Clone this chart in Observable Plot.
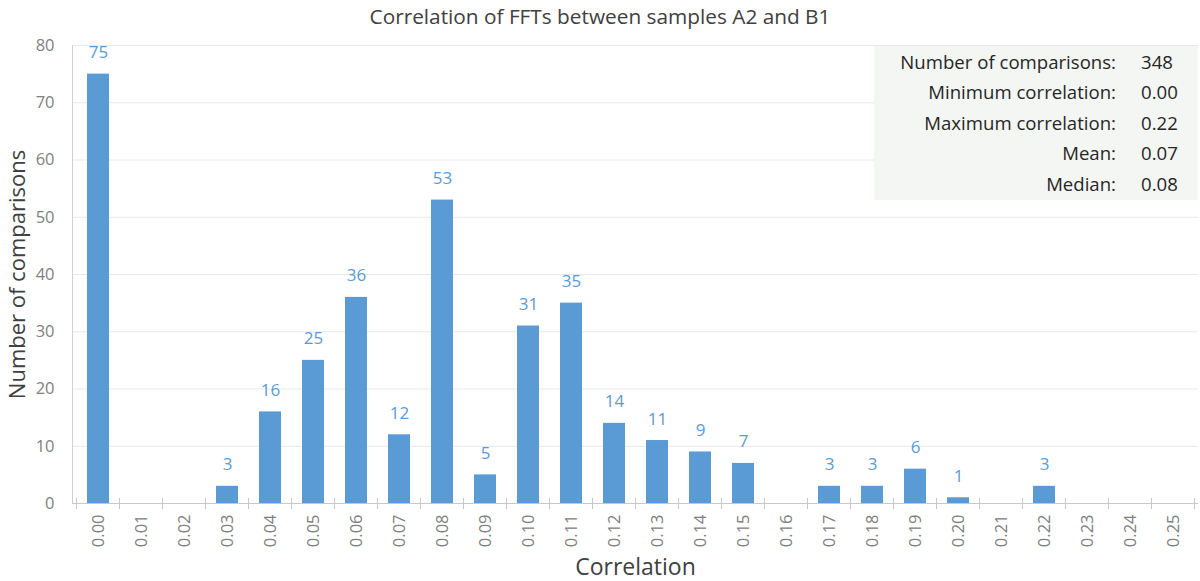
<!DOCTYPE html>
<html>
<head>
<meta charset="utf-8">
<script src="https://cdn.jsdelivr.net/npm/d3@7"></script>
<script src="https://cdn.jsdelivr.net/npm/@observablehq/plot@0.6"></script>
<style>
  html, body { margin: 0; padding: 0; background: #fff; }
  #wrap { position: relative; width: 1200px; height: 581px; font-family: "Open Sans", sans-serif; }
  #title { height: 30px; line-height: 32px; text-align: center; font-size: 20.8px; color: #404040; }
  #stats { position: absolute; left: 874px; top: 46px; width: 324px; height: 154px; background: #f4f6f4;
           font-size: 18.6px; color: #262626; }
  #stats .row { position: absolute; left: 0; width: 324px; height: 30.5px; line-height: 30.5px; }
  #stats .lab { position: absolute; right: 82px; white-space: nowrap; }
  #stats .val { position: absolute; left: 267px; white-space: nowrap; }
</style>
</head>
<body>
<div id="wrap">
  <div id="title">Correlation of FFTs between samples A2 and B1</div>
  <div id="chart"></div>
  <div id="stats"></div>
</div>
<script>
const categories = ["0.00","0.01","0.02","0.03","0.04","0.05","0.06","0.07","0.08","0.09","0.10","0.11","0.12","0.13","0.14","0.15","0.16","0.17","0.18","0.19","0.20","0.21","0.22","0.23","0.24","0.25"];
const counts = [75,0,0,3,16,25,36,12,53,5,31,35,14,11,9,7,0,3,3,6,1,0,3,0,0,0];
const yTicks = [0,10,20,30,40,50,60,70,80];
const statLabels = ["Number of comparisons:","Minimum correlation:","Maximum correlation:","Mean:","Median:"];
const statValues = ["348","0.00","0.22","0.07","0.08"];

const data = categories.map((c, i) => ({cat: c, n: counts[i]}));
const barColor = "#5b9bd5";

const chart = Plot.plot({
  width: 1200,
  height: 551,
  marginTop: 15,
  marginBottom: 78,
  marginLeft: 72,
  marginRight: 2,
  style: {fontFamily: "'Open Sans', sans-serif", background: "#fff"},
  x: {domain: categories, paddingInner: 0.5, paddingOuter: 0.25, label: null},
  y: {domain: [0, 80], label: null},
  marks: [
    Plot.gridY(yTicks, {stroke: "#e8e8e8", strokeOpacity: 1}),
    Plot.frame({anchor: "left", stroke: "#d0d0d0"}),
    Plot.barY(data, {x: "cat", y: "n", fill: barColor}),
    Plot.ruleY([0], {stroke: "#c8c8c8"}),
    Plot.text(data.filter(d => d.n > 0), {x: "cat", y: "n", text: d => String(d.n), fill: barColor, fontSize: 17, lineAnchor: "bottom", dy: -16}),
    Plot.axisY({ticks: yTicks, tickSize: 0, tickPadding: 18, fontSize: 16.5, color: "#808080", label: null}),
    Plot.axisX({tickRotate: -90, tickSize: 0, tickPadding: 11, fontSize: 16.5, color: "#808080", label: null}),
    Plot.text(["Correlation"], {frameAnchor: "bottom", dy: 71, lineAnchor: "bottom", textAnchor: "middle", fontSize: 23, fill: "#404040"}),
    Plot.text(["Number of comparisons"], {frameAnchor: "left", dx: -55, rotate: -90, lineAnchor: "middle", textAnchor: "middle", fontSize: 22, fill: "#404040"})
  ]
});

document.getElementById("chart").appendChild(chart);

// category boundary ticks from the band scale
const sx = chart.scale("x");
const sy = chart.scale("y");
const y0 = sy.apply(0);
const half = (sx.step - sx.bandwidth) / 2;
const bounds = categories.map(c => sx.apply(c) - half);
bounds.push(sx.apply(categories[categories.length - 1]) + sx.bandwidth + half);
d3.select(chart).append("g")
  .attr("stroke", "#c8c8c8")
  .selectAll("line").data(bounds).join("line")
  .attr("x1", d => d).attr("x2", d => d)
  .attr("y1", y0 - 5).attr("y2", y0 + 6);

const stats = d3.select("#stats");
statLabels.forEach((l, i) => {
  const r = stats.append("div").attr("class", "row").style("top", (0.5 + i * 30.5) + "px");
  r.append("span").attr("class", "lab").text(l);
  r.append("span").attr("class", "val").text(statValues[i]);
});
</script>
</body>
</html>
